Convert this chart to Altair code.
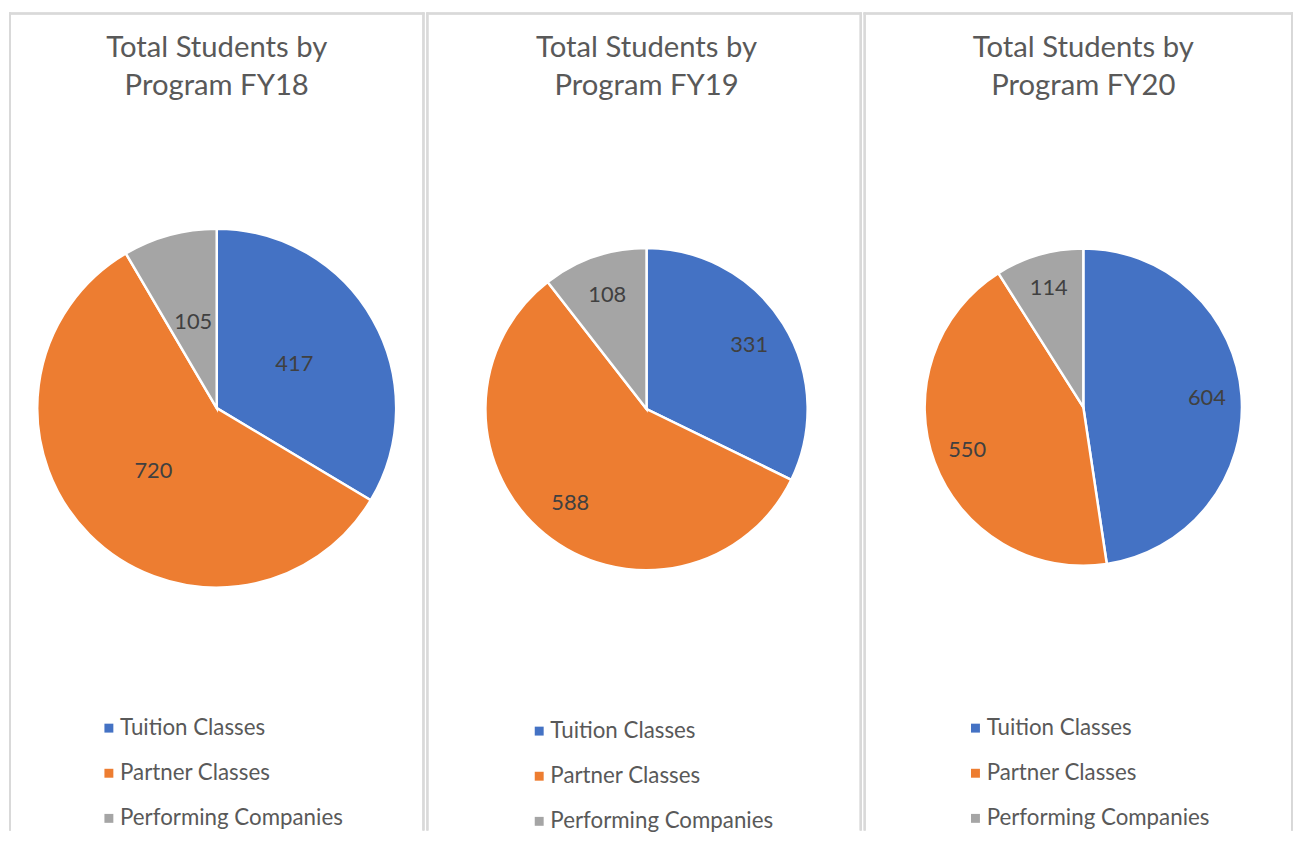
import altair as alt
import pandas as pd

# ---- data ----
programs = ["Tuition Classes", "Partner Classes", "Performing Companies"]
years = ["FY18", "FY19", "FY20"]
students_fy18 = [417, 720, 105]
students_fy19 = [331, 588, 108]
students_fy20 = [604, 550, 114]
series = [students_fy18, students_fy19, students_fy20]

# ---- styling ----
colors = ["#4472C4", "#ED7D31", "#A5A5A5"]
FONT = "Lato"
H = 825
panel_w = [419, 439, 433]
pie_cx = [209.5, 222, 221.5]
pie_cy = [399, 400, 398]
pie_r = [181, 162.5, 160]
label_r = [90, 122, 125]
legend_x = [89.5, 102.5, 101.5]
legend_y = [710.5, 713.5, 710.5]


def panel(i):
    df = pd.DataFrame({
        "program": programs,
        "students": series[i],
        "order": list(range(len(programs))),
    })
    base = alt.Chart(df)
    cx, cy = pie_cx[i], pie_cy[i]

    arc = base.mark_arc(radius=pie_r[i], stroke="white", strokeWidth=2.5).encode(
        x=alt.value(cx),
        y=alt.value(cy),
        theta=alt.Theta("students:Q", stack=True),
        order=alt.Order("order:Q"),
        color=alt.Color(
            "program:N",
            sort=programs,
            scale=alt.Scale(domain=programs, range=colors),
            legend=alt.Legend(
                orient="none",
                legendX=legend_x[i],
                legendY=legend_y[i],
                title=None,
                symbolType="square",
                symbolSize=81,
                symbolStrokeWidth=0,
                labelFontSize=22.5,
                labelFont=FONT,
                labelColor="#595959",
                labelOffset=0,
                rowPadding=22.5,
                padding=0,
                labelLimit=400,
            ),
        ),
    )

    labels = base.mark_text(
        radius=label_r[i], fontSize=22, font=FONT, color="#404040"
    ).encode(
        x=alt.value(cx),
        y=alt.value(cy),
        theta=alt.Theta("students:Q", stack=True),
        order=alt.Order("order:Q"),
        text=alt.Text("students:Q"),
    )

    title_df = pd.DataFrame({"t": [f"Total Students by\nProgram {years[i]}"]})
    title = alt.Chart(title_df).mark_text(
        lineBreak="\n", fontSize=29.5, font=FONT, color="#595959",
        lineHeight=39, align="center", baseline="middle",
    ).encode(x=alt.value(cx), y=alt.value(35.5), text="t:N")

    border_l = base.mark_rule(color="#d9d9d9", strokeWidth=2).encode(
        x=alt.value(1), y=alt.value(0), y2=alt.value(H))
    border_r = base.mark_rule(color="#d9d9d9", strokeWidth=2).encode(
        x=alt.value(panel_w[i] - 1), y=alt.value(0), y2=alt.value(H))
    border_t = base.mark_rule(color="#d9d9d9", strokeWidth=2).encode(
        x=alt.value(0), x2=alt.value(panel_w[i]), y=alt.value(1))

    return alt.layer(border_l, border_r, border_t, arc, labels, title).properties(
        width=panel_w[i], height=H
    )


chart = (
    alt.hconcat(*[panel(i) for i in range(3)], spacing=0)
    .resolve_scale(color="independent")
    .resolve_legend(color="independent")
    .properties(padding=0, background="white")
    .configure_view(strokeWidth=0)
)

chart.save("out.html", embed_options={"renderer": "svg", "actions": False})
